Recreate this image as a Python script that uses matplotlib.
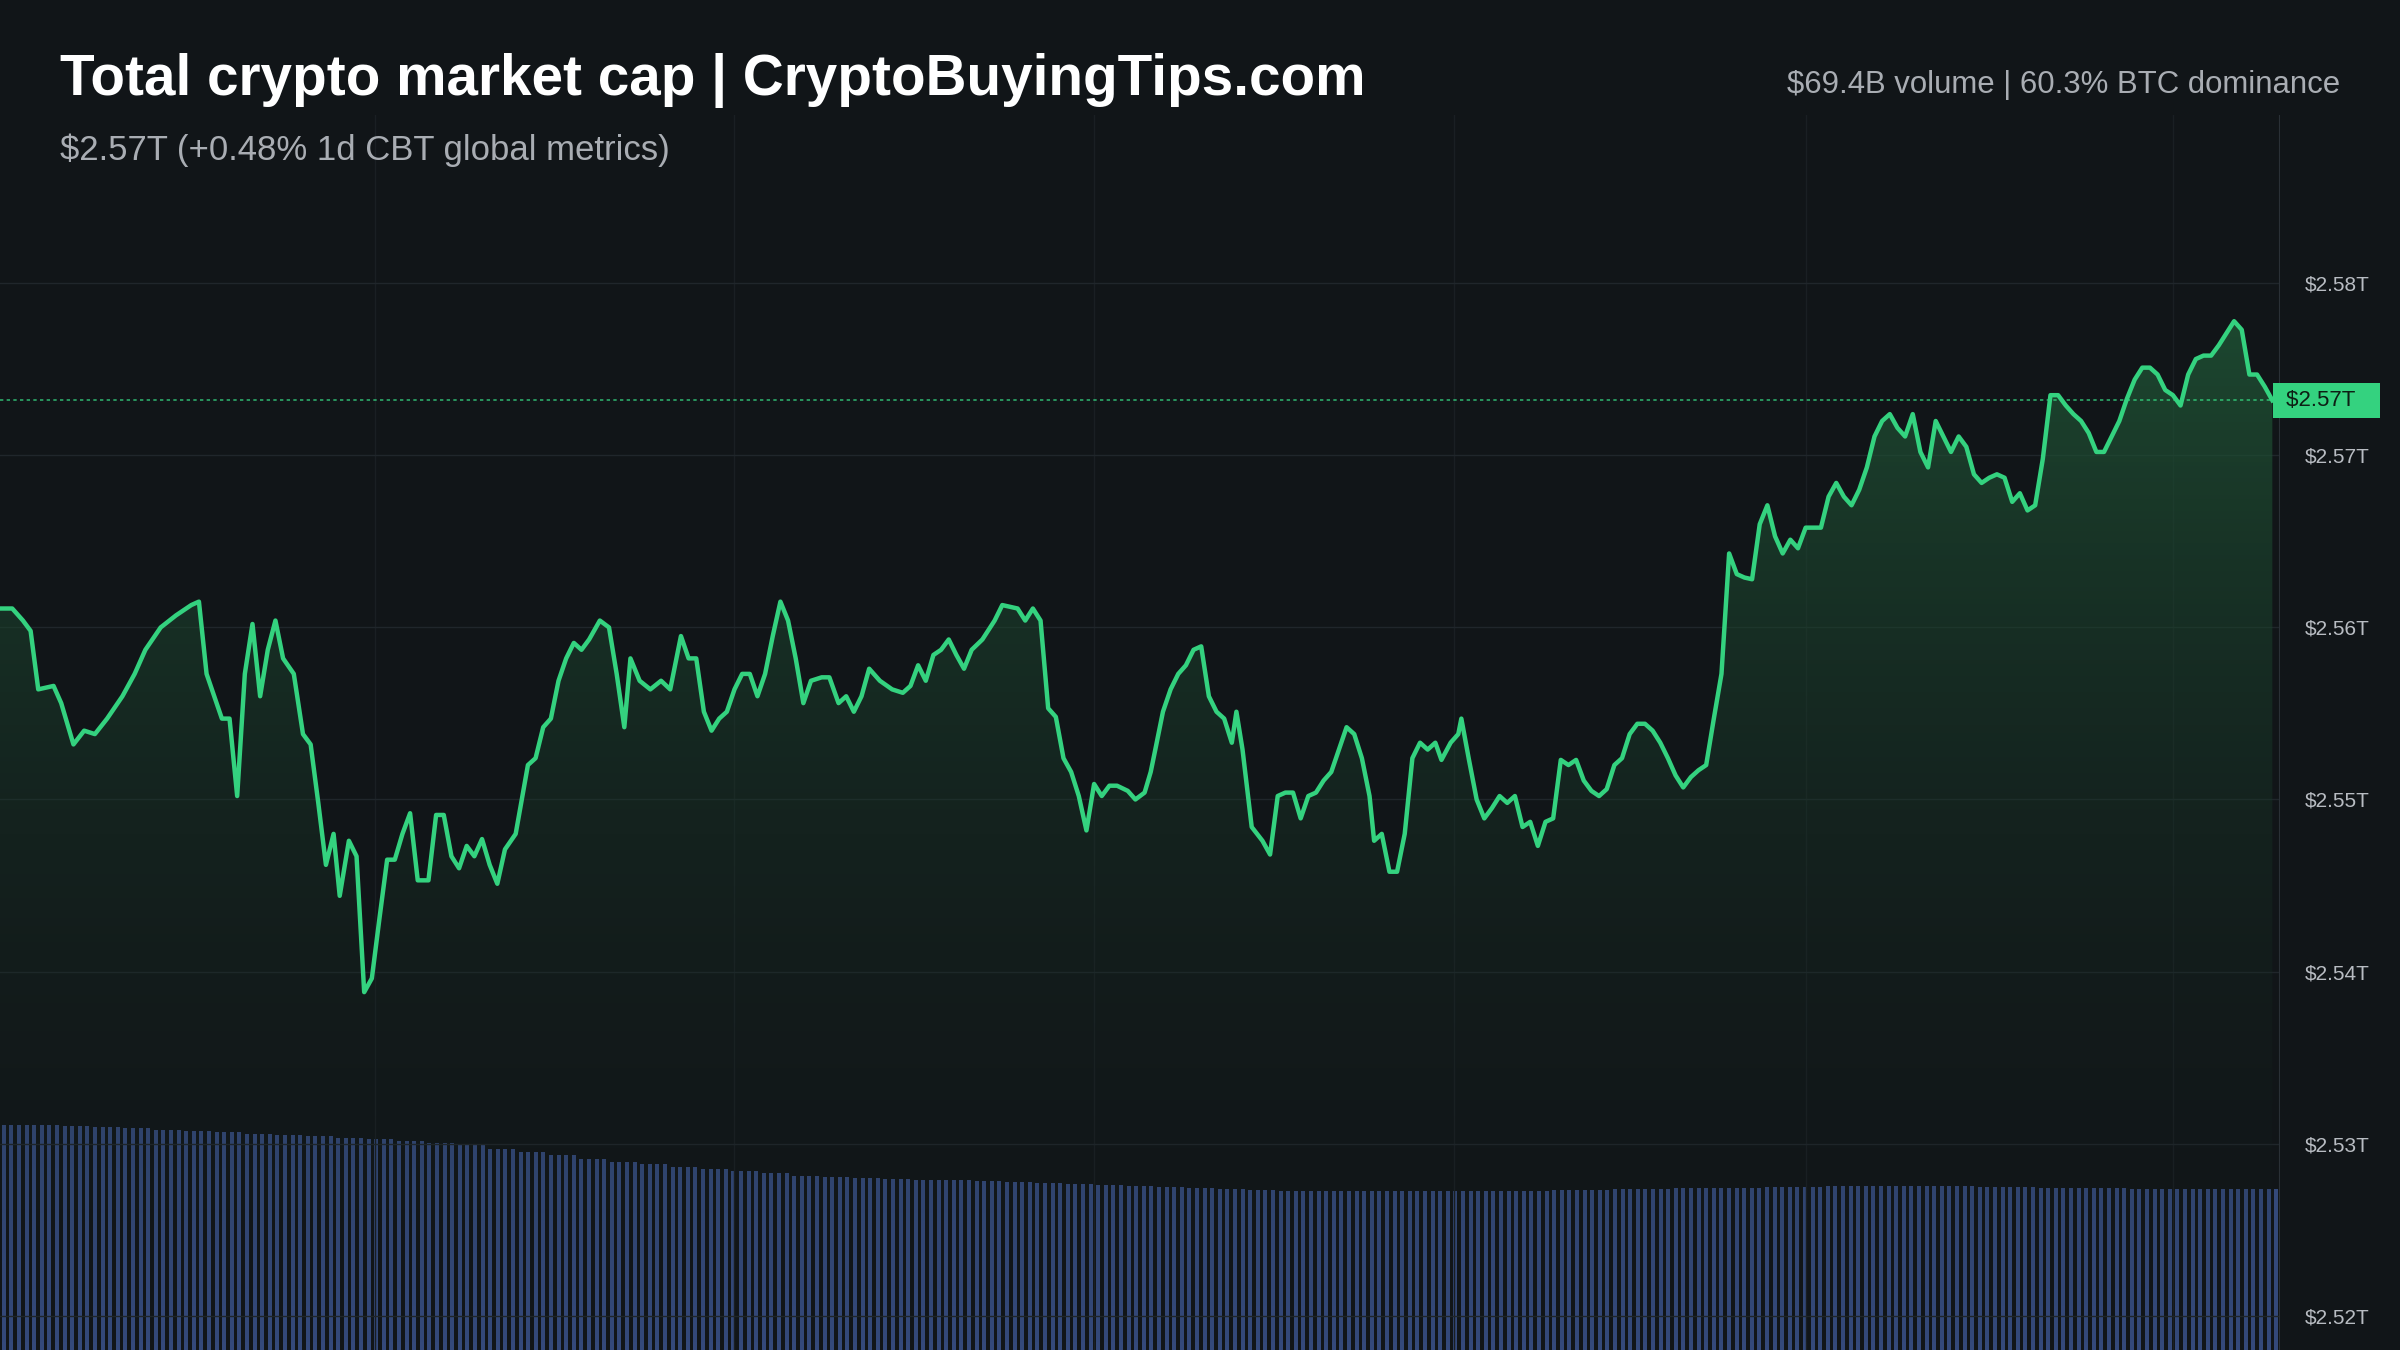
import numpy as np
import matplotlib.pyplot as plt
from matplotlib.patches import PathPatch
from matplotlib.path import Path

plt.rcParams['font.family'] = ['Liberation Sans', 'DejaVu Sans']

# elapsed minutes over the day, total market cap in $B
minutes = [0, 8, 15, 20, 25, 35, 40, 48, 55, 62, 70, 80, 88, 95, 105, 115, 125, 130, 135, 145,
           150, 155, 160, 165, 170, 175, 180, 185, 192, 198, 203, 208, 213, 218, 222, 228, 233, 238, 243, 248,
           253, 258, 263, 268, 273, 280, 285, 290, 295, 300, 305, 310, 315, 320, 325, 330, 337, 345, 350, 355,
           360, 365, 370, 375, 380, 385, 392, 398, 403, 408, 412, 418, 425, 432, 438, 445, 450, 455, 460, 465,
           470, 475, 480, 485, 490, 495, 500, 505, 510, 515, 520, 525, 530, 537, 542, 548, 553, 558, 563, 568,
           575, 583, 590, 595, 600, 605, 610, 615, 620, 625, 630, 635, 642, 650, 655, 665, 670, 675, 680, 685,
           690, 695, 700, 705, 710, 715, 720, 725, 730, 737, 742, 748, 752, 755, 760, 765, 770, 775, 780, 785,
           790, 795, 800, 805, 808, 812, 818, 825, 830, 835, 840, 845, 850, 855, 860, 865, 870, 875, 880, 885,
           890, 895, 898, 903, 908, 913, 918, 923, 928, 933, 938, 942, 948, 953, 955, 960, 965, 970, 975, 980,
           985, 990, 995, 1000, 1005, 1010, 1015, 1020, 1025, 1030, 1035, 1040, 1045, 1050, 1055, 1060, 1065, 1070, 1075, 1080,
           1085, 1090, 1095, 1100, 1105, 1110, 1115, 1120, 1125, 1130, 1135, 1140, 1145, 1150, 1155, 1160, 1165, 1170, 1175, 1180,
           1185, 1190, 1195, 1200, 1205, 1210, 1215, 1220, 1225, 1230, 1235, 1240, 1245, 1250, 1255, 1260, 1265, 1270, 1275, 1280,
           1285, 1290, 1295, 1300, 1305, 1310, 1315, 1320, 1325, 1330, 1335, 1340, 1345, 1350, 1355, 1360, 1365, 1370, 1375, 1380,
           1385, 1390, 1395, 1400, 1405, 1410, 1415, 1420, 1425, 1430, 1435, 1440, 1445, 1450, 1455, 1460, 1465, 1470, 1475, 1480, 1485]
market_cap = [2561.1, 2561.1, 2560.4, 2559.8, 2556.4, 2556.6, 2555.6, 2553.2, 2554.0, 2553.8, 2554.7, 2556.0, 2557.3, 2558.7, 2560.0, 2560.7, 2561.3, 2561.5, 2557.3, 2554.7,
              2554.7, 2550.2, 2557.3, 2560.2, 2556.0, 2558.7, 2560.4, 2558.2, 2557.3, 2553.8, 2553.2, 2549.8, 2546.2, 2548.0, 2544.4, 2547.6, 2546.7, 2538.8, 2539.6, 2543.1,
              2546.5, 2546.5, 2548.0, 2549.2, 2545.3, 2545.3, 2549.1, 2549.1, 2546.7, 2546.0, 2547.3, 2546.7, 2547.7, 2546.2, 2545.1, 2547.1, 2548.0, 2552.0, 2552.4, 2554.2,
              2554.7, 2556.9, 2558.2, 2559.1, 2558.7, 2559.3, 2560.4, 2560.0, 2557.3, 2554.2, 2558.2, 2556.9, 2556.4, 2556.9, 2556.4, 2559.5, 2558.2, 2558.2, 2555.1, 2554.0,
              2554.7, 2555.1, 2556.4, 2557.3, 2557.3, 2556.0, 2557.3, 2559.5, 2561.5, 2560.4, 2558.2, 2555.6, 2556.9, 2557.1, 2557.1, 2555.6, 2556.0, 2555.1, 2556.0, 2557.6,
              2556.9, 2556.4, 2556.2, 2556.6, 2557.8, 2556.9, 2558.4, 2558.7, 2559.3, 2558.4, 2557.6, 2558.7, 2559.3, 2560.4, 2561.3, 2561.1, 2560.4, 2561.1, 2560.4, 2555.3,
              2554.8, 2552.4, 2551.6, 2550.2, 2548.2, 2550.9, 2550.2, 2550.8, 2550.8, 2550.5, 2550.0, 2550.4, 2551.6, 2552.9, 2555.1, 2556.4, 2557.3, 2557.8, 2558.7, 2558.9,
              2556.0, 2555.1, 2554.7, 2553.3, 2555.1, 2552.9, 2548.4, 2547.6, 2546.8, 2550.2, 2550.4, 2550.4, 2548.9, 2550.2, 2550.4, 2551.1, 2551.6, 2552.9, 2554.2, 2553.8,
              2552.4, 2550.2, 2547.6, 2548.0, 2545.8, 2545.8, 2548.0, 2552.4, 2553.3, 2552.9, 2553.3, 2552.3, 2553.3, 2553.8, 2554.7, 2552.3, 2550.0, 2548.9, 2549.5, 2550.2,
              2549.8, 2550.2, 2548.4, 2548.7, 2547.3, 2548.7, 2548.9, 2552.3, 2552.0, 2552.3, 2551.1, 2550.5, 2550.2, 2550.6, 2552.0, 2552.4, 2553.8, 2554.4, 2554.4, 2554.0,
              2553.3, 2552.4, 2551.4, 2550.7, 2551.3, 2551.7, 2552.0, 2554.7, 2557.3, 2564.3, 2563.1, 2562.9, 2562.8, 2566.0, 2567.1, 2565.3, 2564.3, 2565.1, 2564.6, 2565.8,
              2565.8, 2565.8, 2567.6, 2568.4, 2567.6, 2567.1, 2568.0, 2569.3, 2571.1, 2572.0, 2572.4, 2571.6, 2571.1, 2572.4, 2570.2, 2569.3, 2572.0, 2571.1, 2570.2, 2571.1,
              2570.5, 2568.9, 2568.4, 2568.7, 2568.9, 2568.7, 2567.3, 2567.8, 2566.8, 2567.1, 2569.8, 2573.5, 2573.5, 2572.9, 2572.4, 2572.0, 2571.3, 2570.2, 2570.2, 2571.1,
              2572.0, 2573.3, 2574.4, 2575.1, 2575.1, 2574.7, 2573.8, 2573.5, 2572.9, 2574.7, 2575.6, 2575.8, 2575.8, 2576.4, 2577.1, 2577.8, 2577.3, 2574.7, 2574.7, 2574.0, 2573.2]
# trading volume per interval, $B (bars spread evenly across the day)
volume = [100, 100, 99.6, 99.2, 98.6, 98, 97.4, 96.8, 96.2, 95.6, 95, 94.4, 93.8,
          93, 92, 91, 89.5, 88, 86.5, 85, 83.5,
          82.5, 81.5, 80.5, 79.5, 78.5,
          77.5, 77, 76.5, 76, 75.7, 75.4, 75, 74.7, 74.4, 74,
          73.5, 73, 72.5, 72, 71.5,
          71, 70.8, 70.8, 70.6, 70.6, 70.6, 70.6, 70.6, 70.6, 70.8,
          71, 71.2, 71.4, 71.6, 71.8, 72, 72.2, 72.4, 72.6, 72.8, 73, 73,
          73, 72.8, 72.6, 72.4, 72.2, 72, 71.8, 71.6, 71.6, 71.4, 71.4, 71.4]
ticks_b = [2520, 2530, 2540, 2550, 2560, 2570, 2580]
last_price = 2573.2

bg = '#111518'
green = '#34d27f'
x_end = 1490

fig = plt.figure(figsize=(24, 13.5), dpi=100, facecolor=bg)
ax = fig.add_axes([0, 0, 0.950, 0.915], facecolor=bg)
ax.set_xlim(0, x_end)
ymin, ymax = 2518.0, 2589.8
ax.set_ylim(ymin, ymax)

# volume on a twin axis
axv = ax.twinx()
axv.set_ylim(0, 549)
step = x_end / len(volume)
sub = 4
xs = np.arange(len(volume) * sub) * step / sub + step / sub / 2
axv.bar(xs, np.repeat(volume, sub), width=step / sub * 0.55, color='#34497a', zorder=1)
axv.set_yticks([])
for s in axv.spines.values():
    s.set_visible(False)

# gradient fill under the line
verts = [(minutes[0], ymin)] + list(zip(minutes, market_cap)) + [(minutes[-1], ymin), (minutes[0], ymin)]
clip = PathPatch(Path(verts), transform=ax.transData, facecolor='none', edgecolor='none')
ax.add_patch(clip)
grad = np.linspace(0.0, 1.0, 256).reshape(-1, 1)
img = ax.imshow(grad, extent=[0, x_end, ymin, 2578], origin='lower', aspect='auto',
                cmap=plt.matplotlib.colors.LinearSegmentedColormap.from_list(
                    'g', [(0.07, 0.09, 0.10, 0.0), (0.13, 0.35, 0.22, 0.75)]), zorder=2)
img.set_clip_path(clip)

ax.plot(minutes, market_cap, color=green, lw=3.2, zorder=4, solid_joinstyle='round')
ax.axhline(last_price, color=green, lw=1.2, ls=(0, (2, 2)), alpha=0.8, zorder=3)
ax.set_zorder(axv.get_zorder() + 1)
ax.patch.set_visible(False)

ax.set_yticks(ticks_b)
ax.set_yticklabels([f'${v / 1000:.2f}T' for v in ticks_b])
ax.yaxis.tick_right()
ax.tick_params(axis='y', colors='#b8bcc2', labelsize=15, length=0, pad=18)
ax.set_xticks([245, 480, 715, 950, 1180, 1420])
ax.tick_params(axis='x', length=0, labelbottom=False)
ax.grid(True, axis='y', color='#20262b', lw=1)
ax.grid(True, axis='x', color='#1a1f23', lw=1)
for s in ax.spines.values():
    s.set_visible(False)
ax.axvline(x_end, color='#2a3036', lw=1.5)

ax.text(1.0, last_price, f' ${last_price / 1000:.2f}T   ', transform=ax.get_yaxis_transform(),
        ha='left', va='center', fontsize=16, color='#0d1f14',
        bbox=dict(boxstyle='square,pad=0.3', fc=green, ec='none'), zorder=6)

fig.text(0.025, 0.94, 'Total crypto market cap | CryptoBuyingTips.com', color='white',
         fontsize=40.8, fontweight='bold', va='center')
fig.text(0.025, 0.889, '$2.57T (+0.48% 1d CBT global metrics)', color='#a9adb3',
         fontsize=25, va='center')
fig.text(0.975, 0.937, '$69.4B volume | 60.3% BTC dominance', color='#a9adb3',
         fontsize=22.4, va='center', ha='right')

fig.savefig('out.png', dpi=100, facecolor=bg)
